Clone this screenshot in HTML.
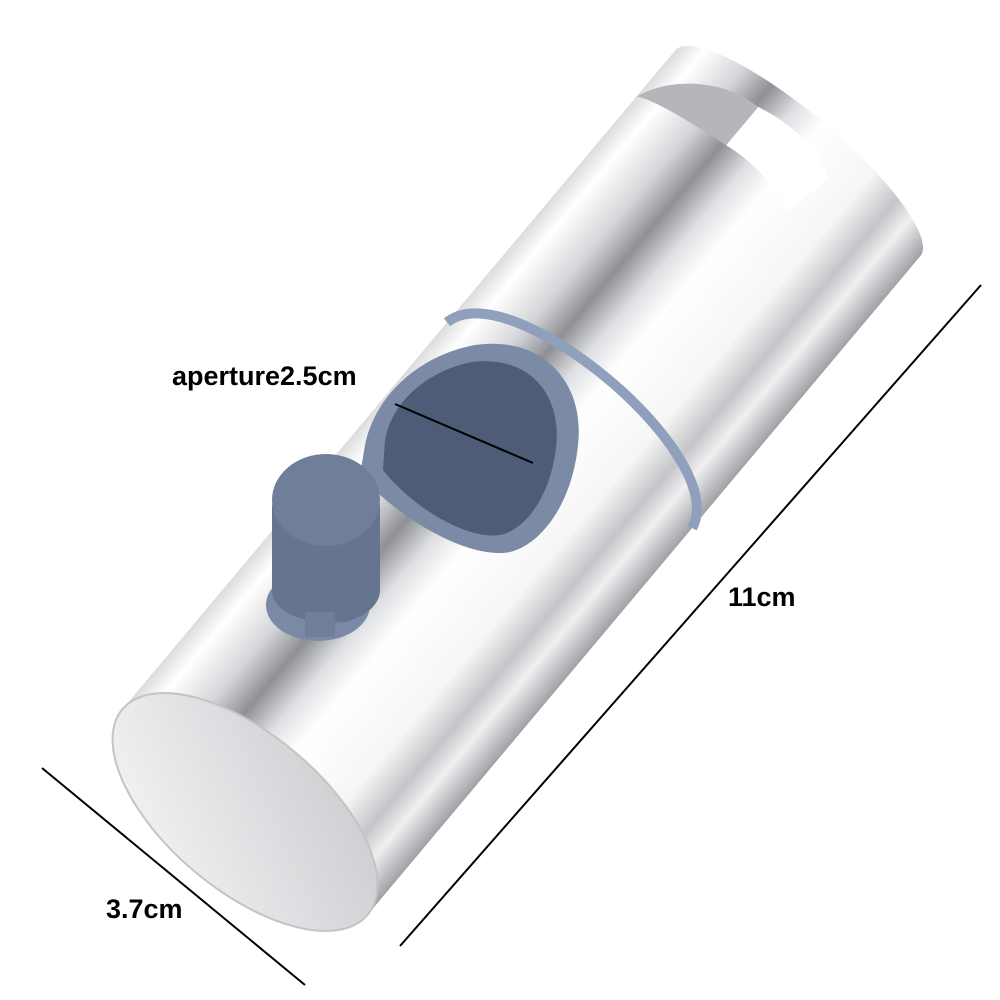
<!DOCTYPE html>
<html><head><meta charset="utf-8"><style>
html,body{margin:0;padding:0;background:#fff;width:1000px;height:1000px;overflow:hidden}
svg{display:block}
text{font-family:"Liberation Sans",sans-serif;font-weight:bold;fill:#000}
</style></head><body>
<svg width="1000" height="1000" viewBox="0 0 1000 1000">
<defs>
<linearGradient id="body" x1="0" y1="-160" x2="0" y2="160" gradientUnits="userSpaceOnUse">
<stop offset="0" stop-color="#dcdcdf"/>
<stop offset="0.07" stop-color="#ffffff"/>
<stop offset="0.2" stop-color="#d4d5d8"/>
<stop offset="0.3" stop-color="#8e9095"/>
<stop offset="0.4" stop-color="#dedfe2"/>
<stop offset="0.5" stop-color="#ffffff"/>
<stop offset="0.72" stop-color="#f6f6f7"/>
<stop offset="0.83" stop-color="#c4c5c8"/>
<stop offset="0.9" stop-color="#f0f0f2"/>
<stop offset="1" stop-color="#a0a1a5"/>
</linearGradient>
<linearGradient id="cap" x1="0" y1="0" x2="1" y2="1">
<stop offset="0" stop-color="#f6f6f7"/>
<stop offset="0.5" stop-color="#e0e0e3"/>
<stop offset="1" stop-color="#cacacd"/>
</linearGradient>
</defs>
<g transform="translate(245,812) rotate(-50)">
  <rect x="0" y="-160" width="860" height="320" fill="url(#body)"/>
  <ellipse cx="860" cy="0" rx="40" ry="160" fill="url(#body)"/>
  <path d="M800,-160 C840,-145 870,-100 870,-60 L820,-60 C815,-100 810,-140 800,-160 Z" fill="#b5b6ba"/>
  <path d="M870,-60 C880,-20 875,20 860,40 L810,30 C820,0 825,-30 820,-60 Z" fill="#fff"/>
  <path d="M505,-160 C585,-145 585,145 505,160" fill="none" stroke="#8fa0bd" stroke-width="10"/>
  <ellipse cx="0" cy="0" rx="78" ry="160" fill="url(#cap)" stroke="#c4c4c7" stroke-width="2"/>
</g>
<!-- teardrop -->
<path d="M365,445 C375,395 420,355 475,345 C545,335 585,385 578,445 C572,505 540,545 510,552 C470,560 400,520 360,475 Z" fill="#7b8aa5"/>
<path d="M385,440 C392,400 430,370 472,362 C532,355 562,397 556,448 C550,497 525,530 500,535 C465,540 410,505 383,470 Z" fill="#4e5c77"/>
<line x1="395" y1="404" x2="533" y2="463" stroke="#000" stroke-width="2"/>
<!-- knob -->
<ellipse cx="318" cy="605" rx="52" ry="36" fill="#7a8aa6"/>
<path d="M272,505 L272,590 C272,615 310,625 345,622 C372,615 380,600 380,590 L380,505 Z" fill="#66758f"/>
<ellipse cx="326" cy="500" rx="54" ry="46" fill="#6f7f9a"/>
<rect x="305" y="612" width="30" height="25" fill="#6f7f9a"/>
<!-- dimension lines -->
<line x1="400" y1="946" x2="981" y2="285" stroke="#000" stroke-width="2"/>
<line x1="42" y1="768" x2="305" y2="985" stroke="#000" stroke-width="2"/>
<text x="172" y="385" font-size="27">aperture2.5cm</text>
<text x="728" y="606" font-size="27">11cm</text>
<text x="106" y="918" font-size="27">3.7cm</text>
</svg>
</body></html>
